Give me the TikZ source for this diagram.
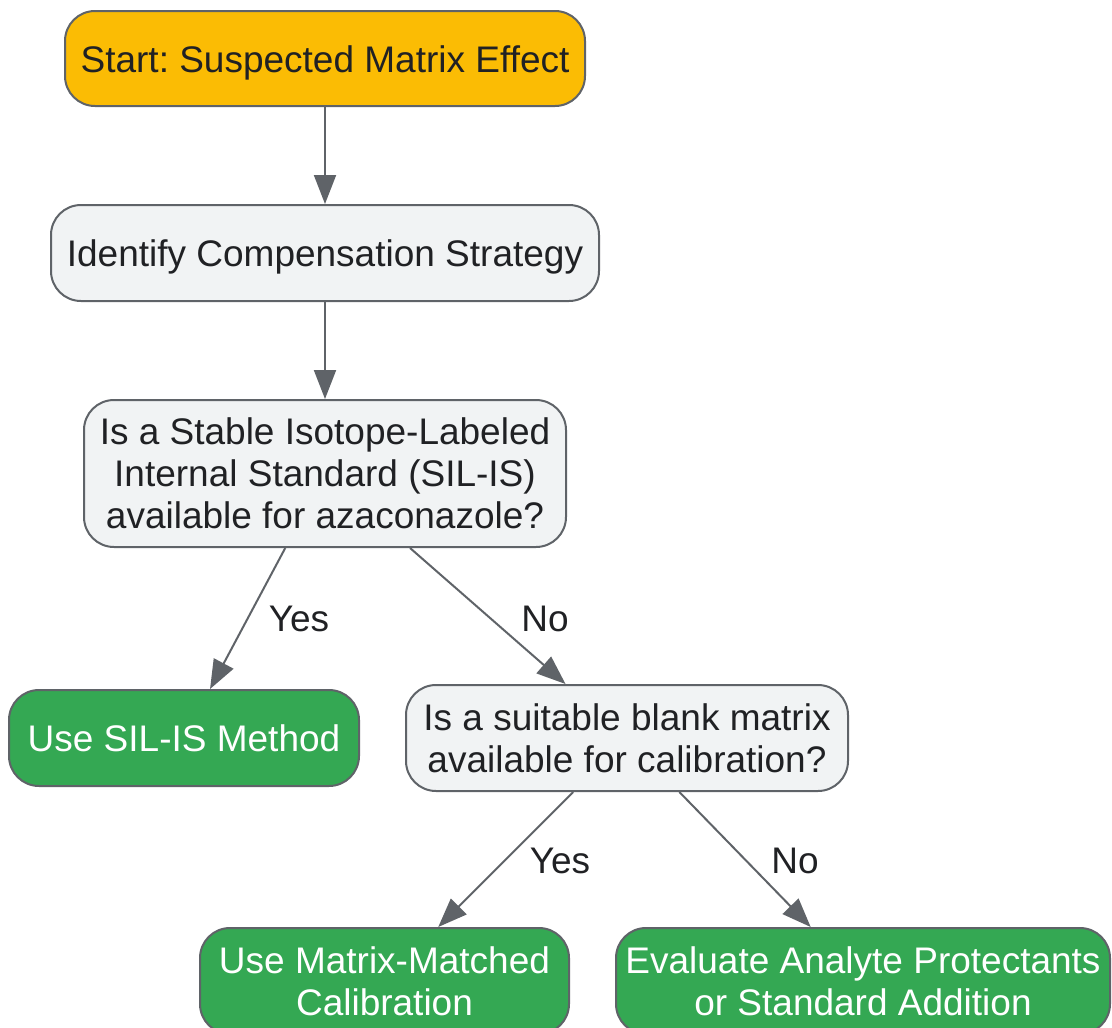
\documentclass[tikz,border=0pt]{standalone}
\usepackage{fontspec}
\setmainfont{Liberation Sans}
\usetikzlibrary{arrows.meta}
\frenchspacing
\definecolor{edgegray}{HTML}{5F6368}
\definecolor{lightfill}{HTML}{F1F3F4}
\definecolor{startfill}{HTML}{FBBC04}
\definecolor{greenfill}{HTML}{34A853}
\definecolor{darktext}{HTML}{202124}
\begin{document}
\begin{tikzpicture}[x=1pt,y=-1pt,
  box/.style={draw=edgegray, line width=2pt, rounded corners=30pt, align=center,
    font=\fontsize{37}{42}\selectfont, inner sep=0pt, text=darktext},
  oneline/.style={text height=35pt, text depth=8pt},
  startbox/.style={box, fill=startfill},
  plainbox/.style={box, fill=lightfill},
  greenbox/.style={box, fill=greenfill, text=white},
  conn/.style={draw=edgegray, line width=2pt, -{Triangle[length=29pt,width=22pt]}},
  lbl/.style={font=\fontsize{37}{42}\selectfont, text=darktext, inner sep=0pt}
]
\useasboundingbox (0,0) rectangle (1112,1028);
\node[startbox, oneline, minimum width=520pt, minimum height=95pt] (start) at (325,58.5) {Start: Suspected Matrix Effect};
\node[plainbox, oneline, minimum width=548pt, minimum height=96pt] (ident) at (325,253) {Identify Compensation Strategy};
\node[plainbox, minimum width=482pt, minimum height=147pt] (silq) at (325,473.5) {Is a Stable Isotope-Labeled\\Internal Standard (SIL-IS)\\available for azaconazole?};
\node[greenbox, oneline, minimum width=350pt, minimum height=96pt] (usesil) at (184,738) {Use SIL-IS Method};
\node[plainbox, minimum width=442pt, minimum height=106pt] (blankq) at (627,738) {Is a suitable blank matrix\\available for calibration?};
\node[greenbox, minimum width=369pt, minimum height=106pt] (mm) at (384.5,981) {Use Matrix-Matched\\Calibration};
\node[greenbox, minimum width=494pt, minimum height=106pt] (eval) at (863,981) {Evaluate Analyte Protectants\\or Standard Addition};

\draw[conn] (start) -- (ident);
\draw[conn] (ident) -- (silq);
\draw[conn] (silq) -- (usesil);
\draw[conn] (silq) -- (blankq);
\draw[conn] (blankq) -- (mm);
\draw[conn] (blankq) -- (eval);

\node[lbl] (l1) at (299,619) {Yes};
\node[lbl] (l2) at (545,619) {No};
\node[lbl] (l3) at (560,861) {Yes};
\node[lbl] (l4) at (795,861) {No};
\end{tikzpicture}
\end{document}
